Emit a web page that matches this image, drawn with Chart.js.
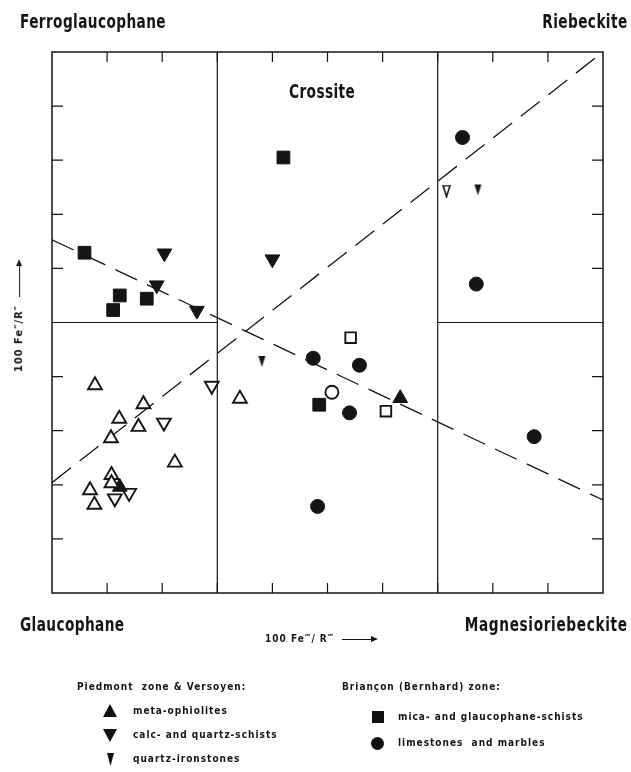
<!DOCTYPE html>
<html>
<head>
<meta charset="utf-8">
<script src="https://cdn.jsdelivr.net/npm/chart.js@4"></script>
<style>
  body { margin: 0; background: #fff; }
  #wrap { position: relative; width: 631px; height: 772px; color: #151515;
          font-family: "Liberation Sans Narrow", "DejaVu Sans Condensed", sans-serif; font-weight: bold; }
  #chart { position: absolute; left: 0; top: 0; }
  .lbl { position: absolute; white-space: nowrap; line-height: 1; }
  .big { font-size: 19px; letter-spacing: 0.5px; transform: scaleX(0.8); transform-origin: left center; }
  .big.r { transform-origin: right center; }
  .small { font-size: 10px; letter-spacing: 1px; }
  .arrow { display: inline-block; position: relative; height: 0; border-top: 1.4px solid #151515;
           vertical-align: middle; margin-left: 8px; }
  .arrow::after { content: ""; position: absolute; right: -2px; top: -3.7px;
                  border-left: 7px solid #151515; border-top: 3px solid transparent; border-bottom: 3px solid transparent; }
  .mk { position: absolute; background: #111; }
  .up { clip-path: polygon(50% 0, 100% 100%, 0 100%); }
  .down { clip-path: polygon(0 0, 100% 0, 50% 100%); }
</style>
</head>
<body>
<div id="wrap">
  <canvas id="chart" width="631" height="772"></canvas>

  <div class="lbl big" style="left:20px;top:12px">Ferroglaucophane</div>
  <div class="lbl big r" style="right:3px;top:12px">Riebeckite</div>
  <div class="lbl big" style="left:289px;top:82px">Crossite</div>
  <div class="lbl big" style="left:20px;top:615px">Glaucophane</div>
  <div class="lbl big r" style="right:3px;top:615px;letter-spacing:0.8px">Magnesioriebeckite</div>
  <div class="lbl small" style="left:265px;top:634px">100 Fe‴/ R‴<span class="arrow" style="width:34px"></span></div>
  <div class="lbl small" style="left:-37px;top:311px;transform:rotate(-90deg);font-size:11px">100 Fe″/R″<span class="arrow" style="width:36px"></span></div>

  <div class="lbl small" style="left:77px;top:682px">Piedmont &nbsp;zone &amp; Versoyen:</div>
  <div class="mk up" style="left:103px;top:704px;width:14px;height:13px"></div>
  <div class="lbl small" style="left:133px;top:706px">meta-ophiolites</div>
  <div class="mk down" style="left:103px;top:729px;width:14px;height:13px"></div>
  <div class="lbl small" style="left:133px;top:730px">calc- and quartz-schists</div>
  <div class="mk down" style="left:107px;top:753px;width:7px;height:13px"></div>
  <div class="lbl small" style="left:133px;top:754px">quartz-ironstones</div>

  <div class="lbl small" style="left:342px;top:682px">Briançon (Bernhard) zone:</div>
  <div class="mk" style="left:372px;top:711px;width:12px;height:12px"></div>
  <div class="lbl small" style="left:398px;top:712px">mica- and glaucophane-schists</div>
  <div class="mk" style="left:371px;top:737px;width:13px;height:13px;border-radius:50%"></div>
  <div class="lbl small" style="left:398px;top:738px">limestones &nbsp;and marbles</div>
</div>

<script>
// 100 Fe'''/R''' (x) vs 100 Fe''/R'' (y)
const metaOphiolites = [{x: 63.2, y: 36.0}, {x: 12.3, y: 19.6}];
const metaOphiolitesOpen = [
  {x: 7.8, y: 38.4}, {x: 16.6, y: 34.9}, {x: 12.2, y: 32.2}, {x: 15.7, y: 30.7},
  {x: 10.7, y: 28.6}, {x: 22.3, y: 24.1}, {x: 10.8, y: 21.8}, {x: 10.8, y: 20.3},
  {x: 6.9, y: 19.0}, {x: 7.7, y: 16.3}, {x: 34.1, y: 35.9}
];
const calcSchists = [{x: 20.4, y: 62.8}, {x: 19.0, y: 56.9}, {x: 26.3, y: 52.2}, {x: 40.0, y: 61.7}];
const calcSchistsOpen = [{x: 29.0, y: 38.3}, {x: 20.3, y: 31.5}, {x: 14.0, y: 18.5}, {x: 11.4, y: 17.5}];
const quartzIronstones = [{x: 38.1, y: 42.8}, {x: 77.3, y: 74.5}];
const quartzIronstonesOpen = [{x: 71.6, y: 74.3}];
const micaSchists = [
  {x: 5.9, y: 62.9}, {x: 12.3, y: 55.0}, {x: 17.2, y: 54.4}, {x: 11.1, y: 52.3},
  {x: 42.0, y: 80.5}, {x: 48.5, y: 34.8}
];
const micaSchistsOpen = [{x: 54.2, y: 47.2}, {x: 60.6, y: 33.6}];
const limestones = [
  {x: 47.4, y: 43.4}, {x: 55.8, y: 42.1}, {x: 54.0, y: 33.3}, {x: 87.5, y: 28.9},
  {x: 48.2, y: 16.0}, {x: 74.5, y: 84.2}, {x: 77.0, y: 57.1}
];
const limestonesOpen = [{x: 50.8, y: 37.1}];

// trend lines and field boundaries
const trendFalling = [{x: 0, y: 65.3}, {x: 100, y: 17.2}];
const trendRising = [{x: 0, y: 20.4}, {x: 100, y: 100}];
const fieldLines = [
  [{x: 30, y: 0}, {x: 30, y: 100}],
  [{x: 70, y: 0}, {x: 70, y: 100}],
  [{x: 0, y: 50}, {x: 30, y: 50}],
  [{x: 70, y: 50}, {x: 100, y: 50}]
];
const xTicks = [10, 20, 30, 40, 50, 60, 70, 80, 90];
const yTicks = [10, 20, 30, 40, 50, 60, 70, 80, 90];

const ink = '#151515';

function narrowTri(filled) {
  const c = document.createElement('canvas');
  c.width = 9; c.height = 13;
  const g = c.getContext('2d');
  g.beginPath();
  g.moveTo(1, 1); g.lineTo(8, 1); g.lineTo(4.5, 12); g.closePath();
  g.fillStyle = filled ? ink : '#fff';
  g.fill();
  if (!filled) { g.lineWidth = 1.6; g.strokeStyle = ink; g.stroke(); }
  return c;
}

function pts(data, style, radius, filled, rotation) {
  return {
    data: data,
    pointStyle: style,
    pointRadius: radius,
    pointHoverRadius: radius,
    pointRotation: rotation || 0,
    pointBackgroundColor: filled ? ink : '#fff',
    pointBorderColor: ink,
    pointBorderWidth: filled ? 1 : 1.9,
    order: 0
  };
}

function line(data, dash) {
  return {
    data: data,
    showLine: true,
    borderColor: ink,
    borderWidth: dash ? 1.3 : 1.2,
    borderDash: dash || [],
    pointRadius: 0,
    order: 10
  };
}

const frame = {
  id: 'frame',
  beforeDatasetsDraw(chart) {
    const a = chart.chartArea, ctx = chart.ctx;
    const sx = chart.scales.x, sy = chart.scales.y;
    ctx.save();
    ctx.strokeStyle = ink;
    ctx.lineWidth = 1.5;
    ctx.strokeRect(a.left, a.top, a.right - a.left, a.bottom - a.top);
    ctx.lineWidth = 1.2;
    ctx.beginPath();
    xTicks.forEach(v => {
      const px = sx.getPixelForValue(v);
      ctx.moveTo(px, a.top); ctx.lineTo(px, a.top + 10);
      ctx.moveTo(px, a.bottom); ctx.lineTo(px, a.bottom - 10);
    });
    yTicks.forEach(v => {
      const py = sy.getPixelForValue(v);
      ctx.moveTo(a.left, py); ctx.lineTo(a.left + 11, py);
      ctx.moveTo(a.right, py); ctx.lineTo(a.right - 11, py);
    });
    ctx.stroke();
    ctx.restore();
  }
};

new Chart(document.getElementById('chart'), {
  type: 'scatter',
  data: {
    datasets: [
      line(trendFalling, [24, 11]),
      line(trendRising, [24, 11]),
      ...fieldLines.map(d => line(d)),
      pts(metaOphiolitesOpen, 'triangle', 8, false),
      pts(metaOphiolites, 'triangle', 8.5, true),
      pts(calcSchists, 'triangle', 8.5, true, 180),
      pts(calcSchistsOpen, 'triangle', 8, false, 180),
      pts(quartzIronstones, narrowTri(true), 6, true),
      pts(quartzIronstonesOpen, narrowTri(false), 6, false),
      pts(micaSchists, 'rect', 9, true),
      pts(micaSchistsOpen, 'rect', 7.5, false),
      pts(limestones, 'circle', 7, true),
      pts(limestonesOpen, 'circle', 6.5, false)
    ]
  },
  options: {
    responsive: false,
    animation: false,
    layout: { padding: { left: 52, right: 28, top: 52, bottom: 179 } },
    scales: {
      x: { type: 'linear', min: 0, max: 100, display: false },
      y: { type: 'linear', min: 0, max: 100, display: false }
    },
    plugins: {
      legend: { display: false },
      tooltip: { enabled: false }
    }
  },
  plugins: [frame]
});
</script>
</body>
</html>
